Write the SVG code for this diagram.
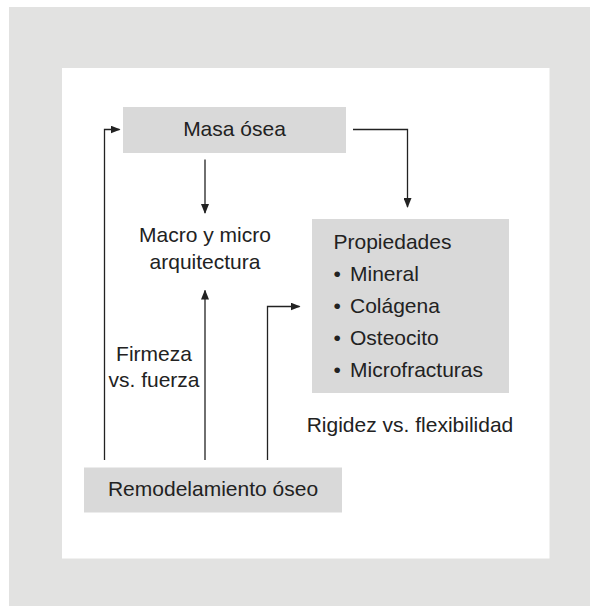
<svg xmlns="http://www.w3.org/2000/svg" width="590" height="606" viewBox="0 0 590 606">
<defs>
<style>
.box{fill:#d9d9d9}
.t{font-family:"Liberation Sans",Arial,sans-serif;font-size:21px;fill:#222}
.c{stroke:#222;stroke-width:1.3;fill:none}
</style>
<marker id="ah" markerWidth="10" markerHeight="8" refX="9" refY="4" orient="auto" markerUnits="userSpaceOnUse">
<path d="M0,0 L10,4 L0,8 Z" fill="#222"/>
</marker>
</defs>
<rect x="0" y="0" width="590" height="606" fill="#fff"/>
<rect x="9" y="7" width="581" height="599" fill="#e2e2e1"/>
<rect x="62" y="68" width="487.5" height="490.5" fill="#fff"/>
<g id="masa">
<rect class="box" x="123" y="107" width="223" height="46"/>
<text class="t" x="234.5" y="136" text-anchor="middle">Masa ósea</text>
</g>
<g id="macro">
<text class="t" x="205" y="241.5" text-anchor="middle">Macro y micro</text>
<text class="t" x="205" y="268.5" text-anchor="middle">arquitectura</text>
</g>
<g id="propiedades">
<rect class="box" x="312" y="219" width="197" height="174"/>
<text class="t" x="333.5" y="249">Propiedades</text>
<text class="t" x="333.5" y="281">•<tspan x="350">Mineral</tspan></text>
<text class="t" x="333.5" y="313">•<tspan x="350">Colágena</tspan></text>
<text class="t" x="333.5" y="345">•<tspan x="350">Osteocito</tspan></text>
<text class="t" x="333.5" y="376.5">•<tspan x="350">Microfracturas</tspan></text>
</g>
<g id="rigidez">
<text class="t" x="410" y="431.5" text-anchor="middle">Rigidez vs. flexibilidad</text>
</g>
<g id="firmeza">
<text class="t" x="154" y="360.5" text-anchor="middle">Firmeza</text>
<text class="t" x="154" y="386.5" text-anchor="middle">vs. fuerza</text>
</g>
<g id="remodelamiento">
<rect class="box" x="84" y="467.5" width="258" height="45"/>
<text class="t" x="213" y="496" text-anchor="middle">Remodelamiento óseo</text>
</g>
<g id="connectors">
<path class="c" d="M104.5,460 V129.5 H119.5" marker-end="url(#ah)"/>
<path class="c" d="M353,129.5 H407.5 V207" marker-end="url(#ah)"/>
<path class="c" d="M205,159.5 V213" marker-end="url(#ah)"/>
<path class="c" d="M205,460 V290.5" marker-end="url(#ah)"/>
<path class="c" d="M267.5,460 V306.5 H299.5" marker-end="url(#ah)"/>
</g>
</svg>
